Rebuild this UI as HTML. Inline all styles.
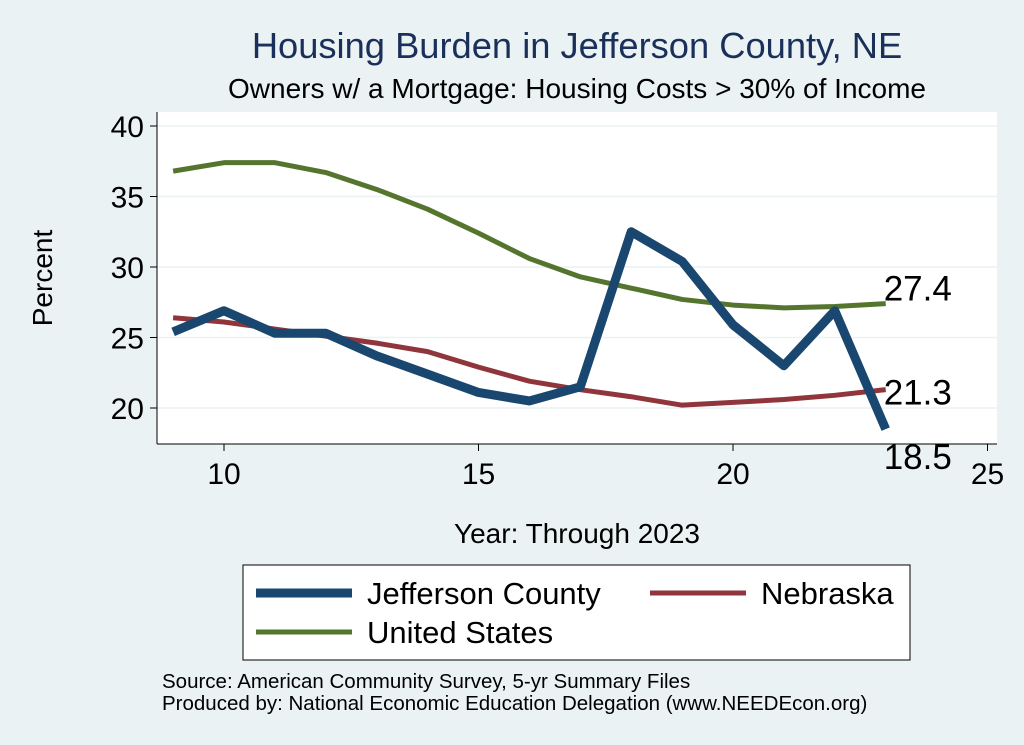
<!DOCTYPE html>
<html><head><meta charset="utf-8"><style>
body{margin:0;background:#eaf2f3;font-family:"Liberation Sans",sans-serif}
svg{display:block}
</style></head><body>
<svg id="c" width="1024" height="745">
<rect x="0" y="0" width="1024" height="745" fill="#eaf2f3"/>
<rect x="157" y="112" width="840" height="332" fill="#ffffff"/>
<text x="577" y="58" font-size="36.3" fill="#1a2f5a" text-anchor="middle">Housing Burden in Jefferson County, NE</text>
<text x="577" y="98" font-size="28" fill="#000" text-anchor="middle">Owners w/ a Mortgage: Housing Costs &gt; 30% of Income</text>
<text x="52" y="278" font-size="28" text-anchor="middle" transform="rotate(-90 52 278)">Percent</text>
<text x="577" y="543" font-size="28" text-anchor="middle">Year: Through 2023</text>
<g id="grid"></g><g id="axes"></g><g id="series"></g><g id="labels"></g>
<rect x="243" y="565" width="667" height="95" fill="#fff" stroke="#000" stroke-width="1"/>
<g><line x1="256" y1="593" x2="352" y2="593" stroke="#1a476f" stroke-width="9"/><text x="367" y="604" font-size="31">Jefferson County</text></g>
<g><line x1="650" y1="593" x2="746" y2="593" stroke="#90353b" stroke-width="5"/><text x="761" y="604" font-size="31">Nebraska</text></g>
<g><line x1="256" y1="632" x2="352" y2="632" stroke="#55752f" stroke-width="5"/><text x="367" y="643" font-size="31">United States</text></g>
<text x="162" y="688" font-size="20.5">Source: American Community Survey, 5-yr Summary Files</text>
<text x="162" y="710" font-size="20.5">Produced by: National Economic Education Delegation (www.NEEDEcon.org)</text>
</svg>
<script>
const years=[9,10,11,12,13,14,15,16,17,18,19,20,21,22,23];
const jefferson=[25.4,26.9,25.3,25.3,23.7,22.4,21.1,20.5,21.5,32.5,30.4,25.9,23.0,26.9,18.5];
const nebraska=[26.4,26.1,25.6,25.1,24.6,24.0,22.9,21.9,21.3,20.8,20.2,20.4,20.6,20.9,21.3];
const unitedStates=[36.8,37.4,37.4,36.7,35.5,34.1,32.4,30.6,29.3,28.5,27.7,27.3,27.1,27.2,27.4];
const xTicks=[10,15,20,25];
const yTicks=[20,25,30,35,40];
const NS="http://www.w3.org/2000/svg";
const X=v=>224+(v-10)*50.9;
const Y=v=>408-(v-20)*14.1;
function mk(p,t,a){const e=document.createElementNS(NS,t);for(const k in a)e.setAttribute(k,a[k]);document.getElementById(p).appendChild(e);return e;}
mk('axes','line',{x1:157,y1:112,x2:157,y2:444,stroke:'#000'});
mk('axes','line',{x1:157,y1:444,x2:997,y2:444,stroke:'#000'});
yTicks.forEach(v=>{
 const g=mk('grid','line',{x1:157,x2:997,y1:Y(v),y2:Y(v),stroke:'#eaf2f3','stroke-width':1.5});
 
 
 mk('axes','line',{x1:150,x2:157,y1:Y(v),y2:Y(v),stroke:'#000'});
 const t=mk('axes','text',{x:144,y:Y(v)+11,'font-size':30,'text-anchor':'end'});t.textContent=v;
 
 
});
xTicks.forEach(v=>{
 mk('axes','line',{x1:X(v),x2:X(v),y1:444,y2:451,stroke:'#000'});
 const t=mk('axes','text',{x:X(v),y:484,'font-size':30,'text-anchor':'middle'});t.textContent=v;
 
 
});
function line(d,col,w,name){
 const p=mk('series','polyline',{points:years.map((y,i)=>X(y)+','+Y(d[i])).join(' '),fill:'none',stroke:col,'stroke-width':w,'stroke-linejoin':'round'});
 
 
}
line(unitedStates,'#55752f',5,'line-united-states');
line(nebraska,'#90353b',5,'line-nebraska');
line(jefferson,'#1a476f',9,'line-jefferson-county');
const last=years.length-1;
[[unitedStates,-4,'label-us-last'],[nebraska,14,'label-nebraska-last'],[jefferson,39,'label-jefferson-last']].forEach(([d,dy,n])=>{
 const t=mk('labels','text',{x:X(years[last])-2,y:Y(d[last])+1+dy,'font-size':35});
 t.textContent=d[last].toFixed(1);
 
 
});
</script>
</body></html>
